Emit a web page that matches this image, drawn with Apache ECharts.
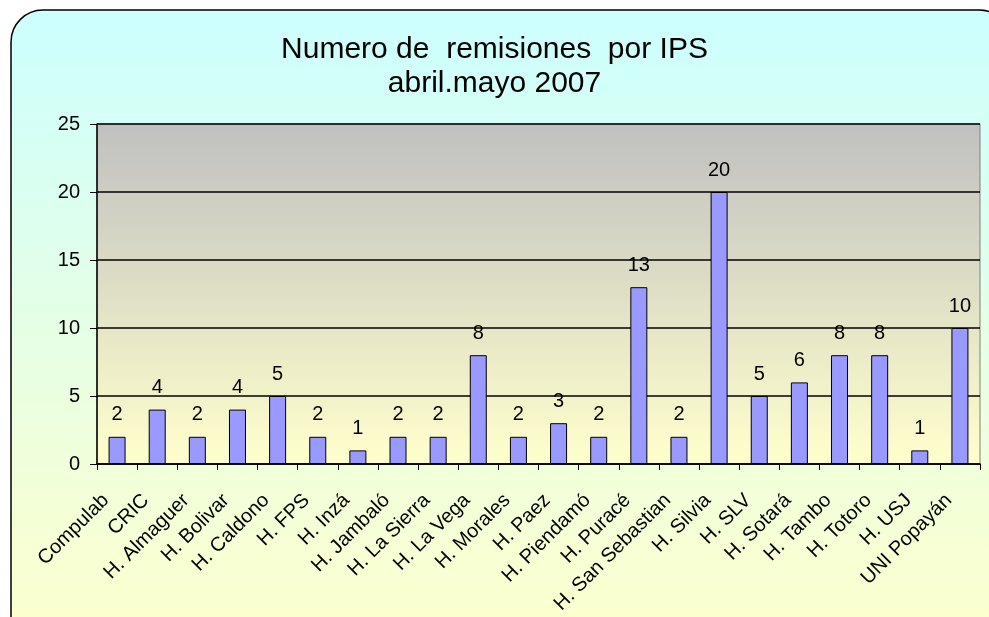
<!DOCTYPE html>
<html>
<head>
<meta charset="utf-8">
<script src="https://cdn.jsdelivr.net/npm/echarts@6/dist/echarts.min.js"></script>
<style>
  html, body { margin: 0; padding: 0; background: #fff; }
  #chart { width: 989px; height: 617px; }
</style>
</head>
<body>
<div id="chart"></div>
<script>
const categories = ['Compulab', 'CRIC', 'H. Almaguer', 'H. Bolivar', 'H. Caldono', 'H. FPS', 'H. Inzá',
  'H. Jambaló', 'H. La Sierra', 'H. La Vega', 'H. Morales', 'H. Paez', 'H. Piendamó', 'H. Puracé',
  'H. San Sebastian', 'H. Silvia', 'H. SLV', 'H. Sotará', 'H. Tambo', 'H. Totoro', 'H. USJ', 'UNI Popayán']
const remisiones = [2, 4, 2, 4, 5, 2, 1, 2, 2, 8, 2, 3, 2, 13, 2, 20, 5, 6, 8, 8, 1, 10]
const yTicks = [0, 5, 10, 15, 20, 25]

const myChart = echarts.init(document.getElementById('chart'))

const option = {
  backgroundColor: '#fff',
  textStyle: { fontFamily: '"Liberation Sans", Arial, sans-serif' },
  graphic: [{
    type: 'rect',
    z: -10,
    silent: true,
    shape: { x: 11, y: 10, width: 1000, height: 640, r: 32 },
    style: {
      fill: new echarts.graphic.LinearGradient(0, 0, 0, 1, [
        { offset: 0, color: '#CCFFFF' },
        { offset: 1, color: '#FFFFCC' }
      ]),
      stroke: '#000',
      lineWidth: 1.5
    }
  }],
  title: {
    text: 'Numero de  remisiones  por IPS\nabril.mayo 2007',
    left: 'center',
    top: 28,
    textStyle: {
      fontSize: 30,
      fontWeight: 'normal',
      color: '#000',
      lineHeight: 34,
      fontFamily: '"Liberation Sans", Arial, sans-serif'
    }
  },
  grid: {
    left: 97,
    right: 9,
    top: 124,
    bottom: 153,
    show: true,
    borderColor: '#808080',
    borderWidth: 1,
    backgroundColor: new echarts.graphic.LinearGradient(0, 0, 0, 1, [
      { offset: 0, color: '#C0C0C0' },
      { offset: 1, color: '#FFFFCC' }
    ])
  },
  xAxis: {
    type: 'category',
    data: categories,
    axisLine: { lineStyle: { color: '#000', width: 1.5 } },
    axisTick: { show: true, length: 6, lineStyle: { color: '#000' } },
    axisLabel: {
      interval: 0,
      rotate: 45,
      fontSize: 20,
      color: '#000',
      margin: 22,
      padding: [0, 16, 0, 0]
    }
  },
  yAxis: {
    type: 'value',
    min: 0,
    max: yTicks[yTicks.length - 1],
    interval: 5,
    axisLine: { show: true, lineStyle: { color: '#000', width: 1.5 } },
    axisTick: { show: true, length: 7, lineStyle: { color: '#000' } },
    splitLine: { lineStyle: { color: '#000', width: 1.5 } },
    axisLabel: { fontSize: 20, color: '#000', margin: 17 }
  },
  series: [{
    type: 'bar',
    data: remisiones,
    barWidth: 17,
    itemStyle: { color: '#9999FF', borderColor: '#000', borderWidth: 1 },
    label: {
      show: true,
      position: 'top',
      distance: 12,
      fontSize: 20,
      color: '#000'
    }
  }]
}

myChart.setOption(option)
</script>
</body>
</html>
